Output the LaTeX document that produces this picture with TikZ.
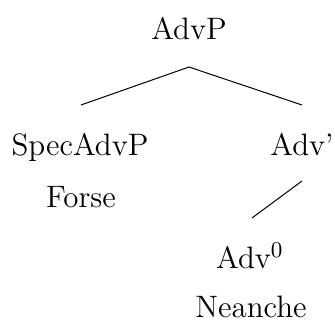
\documentclass[tikz,border=0pt]{standalone}
\begin{document}
\begin{tikzpicture}[x=0.4pt,y=-0.4pt,
    lbl/.style={inner sep=0pt,anchor=base,font=\fontsize{12.4}{15}\selectfont}]
      \useasboundingbox (0,0) rectangle (335,322);
      \foreach \n/\x/\y/\l in
      { advp/189/39/{AdvP},
        spec/80/155/{SpecAdvP},
        advbar/302/155/{Adv'},
        forse/81/207/{Forse},
        advzero/250/268/{Adv$^0$},
        neanche/251/317/{Neanche}
      }
      \node[lbl] (\n) at (\x,\y) {\l};
      \coordinate (advp-foot) at (189,67);
      \coordinate (spec-head) at (81,105);
      \coordinate (advbar-head) at (302,105);
      \coordinate (advbar-foot) at (302,181);
      \coordinate (advzero-head) at (252,218);
      \draw (spec-head) -- (advp-foot) -- (advbar-head);
      \draw (advbar-foot) -- (advzero-head);
    \end{tikzpicture}
\end{document}
